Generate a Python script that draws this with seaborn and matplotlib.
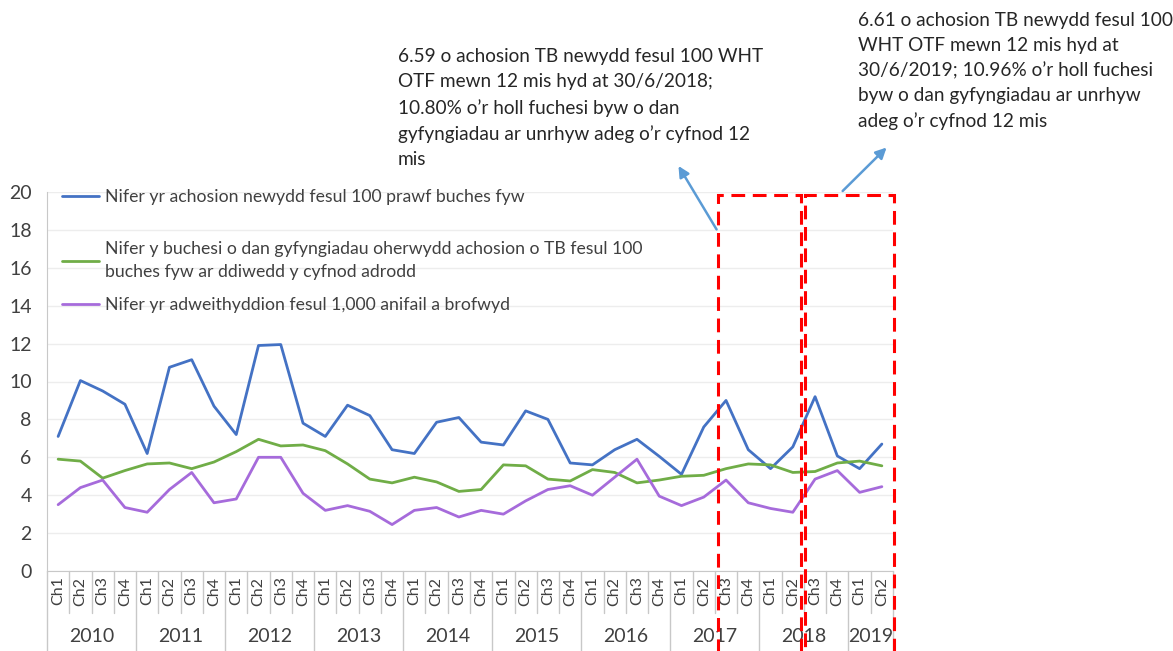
import numpy as np
import pandas as pd
import matplotlib
matplotlib.use('Agg')
import matplotlib.pyplot as plt
import matplotlib.patches as patches
from matplotlib.legend import Legend
import seaborn as sns

sns.set_style('white')
plt.rcParams['font.family'] = ['Lato', 'DejaVu Sans']

# Data
years = ['2010', '2011', '2012', '2013', '2014', '2015', '2016', '2017', '2018', '2019']
quarters = ['Ch1', 'Ch2', 'Ch3', 'Ch4']
tick_labels = [q for y in years for q in quarters][:38]
tick_years = [y for y in years for q in quarters][:38]

new_cases = [7.1, 10.05, 9.5, 8.8, 6.2, 10.75, 11.15, 8.7, 7.2, 11.9, 11.95, 7.8,
             7.1, 8.75, 8.2, 6.4, 6.2, 7.85, 8.1, 6.8, 6.65, 8.45, 8.0, 5.7,
             5.6, 6.4, 6.95, 6.05, 5.1, 7.6, 9.0, 6.4, 5.4, 6.55, 9.2, 6.07, 5.4, 6.7]
restricted = [5.9, 5.8, 4.9, 5.3, 5.65, 5.7, 5.4, 5.75, 6.3, 6.95, 6.6, 6.65,
              6.35, 5.65, 4.85, 4.65, 4.95, 4.7, 4.2, 4.3, 5.6, 5.55, 4.85, 4.75,
              5.35, 5.2, 4.65, 4.8, 5.0, 5.05, 5.4, 5.65, 5.6, 5.2, 5.25, 5.7, 5.8, 5.55]
reactors = [3.5, 4.4, 4.8, 3.35, 3.1, 4.3, 5.2, 3.6, 3.8, 6.0, 6.0, 4.1,
            3.2, 3.45, 3.15, 2.45, 3.2, 3.35, 2.85, 3.2, 3.0, 3.7, 4.3, 4.5,
            4.0, 4.95, 5.9, 3.95, 3.45, 3.9, 4.8, 3.6, 3.3, 3.1, 4.85, 5.3, 4.15, 4.45]

series_names = [
    'Nifer yr achosion newydd fesul 100 prawf buches fyw',
    'Nifer y buchesi o dan gyfyngiadau oherwydd achosion o TB fesul 100\nbuches fyw ar ddiwedd y cyfnod adrodd',
    'Nifer yr adweithyddion fesul 1,000 anifail a brofwyd',
]
colors = ['#4472C4', '#70AD47', '#A66BDB']

note_2018 = ('6.59 o achosion TB newydd fesul 100 WHT\nOTF mewn 12 mis hyd at 30/6/2018;\n'
             '10.80% o\u2019r holl fuchesi byw o dan\ngyfyngiadau ar unrhyw adeg o\u2019r cyfnod 12\nmis')
note_2019 = ('6.61 o achosion TB newydd fesul 100\nWHT OTF mewn 12 mis hyd at\n'
             '30/6/2019; 10.96% o\u2019r holl fuchesi\nbyw o dan gyfyngiadau ar unrhyw\nadeg o\u2019r cyfnod 12 mis')

n = len(tick_labels)
df = pd.DataFrame({
    'idx': list(range(n)) * 3,
    'value': new_cases + restricted + reactors,
    'series': [series_names[0]] * n + [series_names[1]] * n + [series_names[2]] * n,
})

fig = plt.figure(figsize=(11.73, 6.51), dpi=100)
ax = fig.add_axes([47 / 1173, 1 - 571 / 651, 846 / 1173, 379 / 651])

sns.lineplot(data=df, x='idx', y='value', hue='series', hue_order=series_names,
             palette=colors, linewidth=2.0, ax=ax)

ax.set_xlim(-0.5, n - 0.5)
ax.set_ylim(0, 20)
ax.set_yticks(range(0, 21, 2))
ax.yaxis.grid(True, color='#EDEDED', linewidth=1.0)
ax.set_axisbelow(True)
ax.set_xlabel('')
ax.set_ylabel('')
for s in ['top', 'right']:
    ax.spines[s].set_visible(False)
ax.spines['left'].set_color('#C8C8C8')
ax.spines['bottom'].set_color('#C8C8C8')
ax.tick_params(axis='y', direction='out', length=5, color='#C8C8C8', labelsize=14,
               labelcolor='#404040', pad=6)

ax.set_xticks(range(n))
ax.set_xticklabels(tick_labels, rotation=90, fontsize=11.5, color='#404040')
ax.tick_params(axis='x', length=0, pad=4)

# category separators and year groups
xtr = ax.get_xaxis_transform()
for i in range(n + 1):
    b = i - 0.5
    is_year = (i == 0) or (i == n) or (tick_labels[i] == 'Ch1')
    ax.plot([b, b], [0, -0.3 if is_year else -0.112], transform=xtr,
            color='#C8C8C8', lw=1.0, clip_on=False)
for y in years:
    pos = [i for i, t in enumerate(tick_years) if t == y]
    ax.text(np.mean(pos), -0.174, y, transform=xtr, ha='center', va='center',
            fontsize=14, color='#404040')

# legend: one entry per block so the uneven spacing of the original is kept
handles, labels = ax.get_legend_handles_labels()
ax.get_legend().remove()
legend_y = [1 - (197 - 192) / 379, 1 - (260.5 - 192) / 379, 1 - (305 - 192) / 379]
for h, lab, ly in zip(handles, labels, legend_y):
    lg = Legend(ax, [h], [lab], loc='center left', bbox_to_anchor=(0.018, ly),
                frameon=False, fontsize=12.7, handlelength=2.1, handletextpad=0.3,
                borderaxespad=0, borderpad=0)
    for t in lg.get_texts():
        t.set_color('#404040')
        t.set_linespacing(1.6)
    ax.add_artist(lg)

# red dashed highlight boxes
for x0, x1 in [(29.66, 33.37), (33.55, 37.54)]:
    ax.add_patch(patches.Rectangle((x0, -5), x1 - x0, 19.84 + 5, fill=False,
                                   edgecolor='#FF0000', lw=2.2, linestyle=(0, (4.5, 2.5)),
                                   clip_on=False, zorder=5))

# callout arrows and notes
arrow = dict(arrowstyle='-|>', color='#5B9BD5', lw=1.8, mutation_scale=16)
ax.annotate('', xy=(27.8, 21.5), xytext=(29.64, 17.9), arrowprops=arrow,
            annotation_clip=False)
ax.annotate('', xy=(37.3, 22.45), xytext=(35.15, 19.95), arrowprops=arrow,
            annotation_clip=False)
fig.text(398 / 1173, 1 - 48 / 651, note_2018, ha='left', va='top', fontsize=13.7,
         color='#262626', linespacing=1.58)
fig.text(858 / 1173, 1 - 12 / 651, note_2019, ha='left', va='top', fontsize=13.7,
         color='#262626', linespacing=1.55)

fig.savefig('out.png', dpi=100)
